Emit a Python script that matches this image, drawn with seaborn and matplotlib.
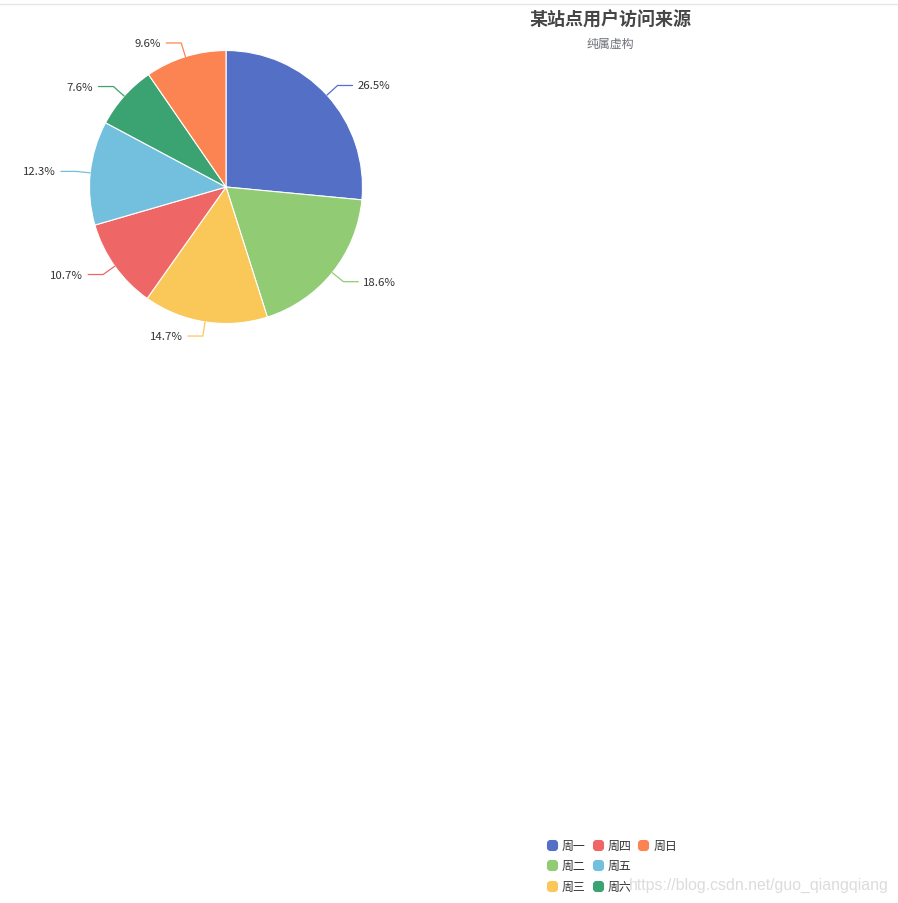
import numpy as np
import matplotlib
matplotlib.use("Agg")
import matplotlib.pyplot as plt
from matplotlib.lines import Line2D
from matplotlib.patches import BoxStyle
import seaborn as sns

# data
days = ["周一", "周二", "周三", "周四", "周五", "周六", "周日"]
shares = [26.5, 18.6, 14.7, 10.7, 12.3, 7.6, 9.6]
colors = ["#5470c6", "#91cc75", "#fac858", "#ee6666", "#73c0de", "#3ba272", "#fc8452"]
title = "某站点用户访问来源"
subtitle = "纯属虚构"
watermark = "https://blog.csdn.net/guo_qiangqiang"

sns.set_theme(style="white")
plt.rcParams['font.family'] = ['Noto Sans CJK SC', 'DejaVu Sans']

W, H = 898, 904
fig = plt.figure(figsize=(W / 100, H / 100), dpi=100)

# pie axes placed in pixel terms: centre (226, 188), radius 136.5
cx, cy, r = 226, 188, 136.5
ax = fig.add_axes([(cx - r) / W, (H - cy - r) / H, 2 * r / W, 2 * r / H])
wedges, _ = ax.pie(shares, colors=sns.color_palette(colors), startangle=90,
                   counterclock=False, radius=1,
                   wedgeprops=dict(edgecolor="white", linewidth=0.8))
ax.set_xlim(-1, 1)
ax.set_ylim(-1, 1)
ax.set_aspect("equal")
ax.axis("off")

# outside labels with elbow leader lines
for w, val, col in zip(wedges, shares, colors):
    ang = np.deg2rad((w.theta1 + w.theta2) / 2)
    x0, y0 = np.cos(ang), np.sin(ang)
    x1, y1 = 1.105 * x0, 1.105 * y0
    side = 1 if x0 >= 0 else -1
    x2 = x1 + side * 15 / r
    ax.plot([x0, x1, x2], [y0, y1, y1], color=col, lw=0.9, clip_on=False)
    ax.text(x2 + side * 5 / r, y1, f"{val}%", ha="left" if side > 0 else "right",
            va="center", fontsize=8.2, color="#333333", clip_on=False)

# titles
fig.text(610 / W, 1 - 20 / H, title, ha="center", va="center",
         fontsize=13, fontweight="bold", color="#464646")
fig.text(610 / W, 1 - 44 / H, subtitle, ha="center", va="center",
         fontsize=8.6, color="#6e7079")

# thin top rule
fig.add_artist(Line2D([0, 1], [1 - 5 / H, 1 - 5 / H], color="#e6e6e6", lw=1))

# legend: rounded-square markers, 3 rows filled column by column
rsq = BoxStyle.Round(pad=0, rounding_size=0.3)(-0.5, -0.5, 1, 1, 1)
handles = [Line2D([], [], marker=rsq, ls="none", markersize=7,
                  markerfacecolor=c, markeredgecolor=c) for c in colors]
labels = list(days)
blank = Line2D([], [], ls="none")
handles += [blank, blank]
labels += ["", ""]
leg = fig.legend(handles, labels, ncol=3, loc="upper left",
                 bbox_to_anchor=(547 / W, 1 - 840 / H), frameon=False,
                 fontsize=8.6, handlelength=0.8, handletextpad=0.45,
                 columnspacing=0.6, labelspacing=0.62, borderpad=0,
                 borderaxespad=0)
for t in leg.get_texts():
    t.set_color("#333333")

# watermark
fig.text(889 / W, 1 - 885 / H, watermark, ha="right", va="center",
         fontsize=11.4, color="#dcdcdc", family=["Liberation Sans", "DejaVu Sans"])

fig.savefig("out.png", dpi=100)
